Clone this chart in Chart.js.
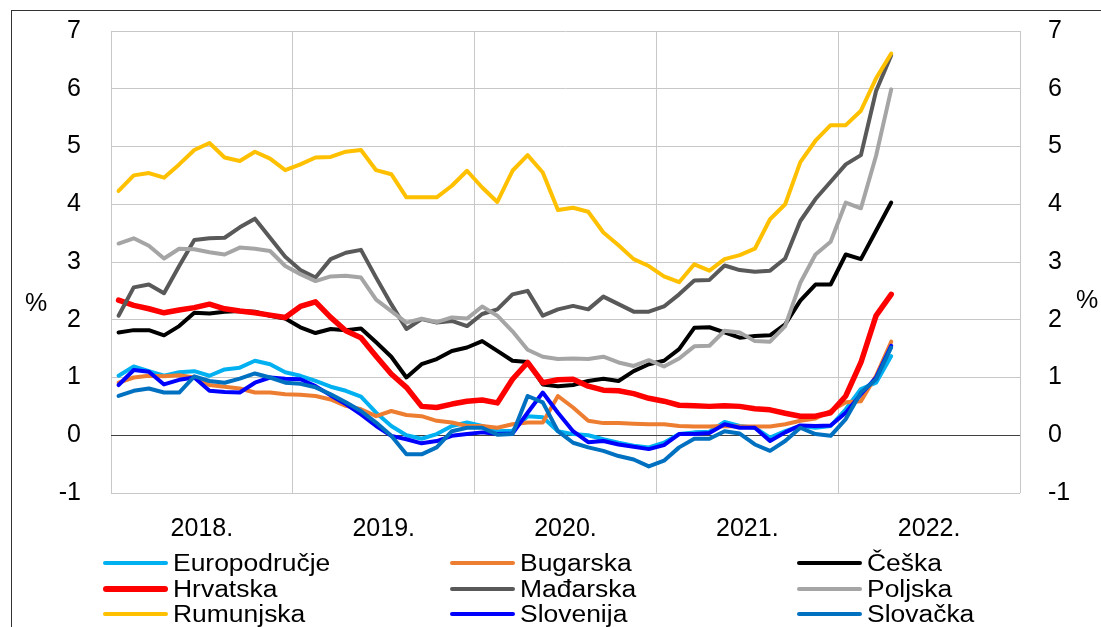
<!DOCTYPE html>
<html>
<head>
<meta charset="utf-8">
<script src="https://cdn.jsdelivr.net/npm/chart.js@4/dist/chart.umd.min.js"></script>
<style>
  html, body { margin: 0; padding: 0; background: #fff; }
  #wrap { position: relative; width: 1101px; height: 627px; overflow: hidden;
          font-family: 'Liberation Sans', Arial, sans-serif; }
  #frame { position: absolute; left: 11px; top: 10px; width: 1200px; height: 700px;
           border-left: 1px solid #333; border-top: 1px solid #333; }
  #chart { position: absolute; left: 0; top: 0; }
  .item { position: absolute; height: 26px; }
  .item b { position: absolute; left: 0; width: 65px; border-radius: 3px; }
  .item span { position: absolute; white-space: nowrap; font-size: 23px; line-height: 26px;
               color: #000; transform: scaleX(1.15); transform-origin: left center; }
</style>
</head>
<body>
<div id="wrap">
  <div id="frame"></div>
  <canvas id="chart" width="1101" height="627"></canvas>
  <div id="legend"></div>
</div>
<script>
// monthly, Jan 2018 – Apr 2022 (%)
const years = ['2018.', '2019.', '2020.', '2021.', '2022.'];
const monthsPerYear = 12;

const europodrucje = [1.03,1.19,1.11,1.03,1.09,1.11,1.03,1.14,1.17,1.29,1.23,1.09,
  1.03,0.94,0.84,0.77,0.67,0.39,0.16,0.00,-0.06,0.02,0.16,0.22,
  0.16,0.07,0.08,0.33,0.31,0.07,0.02,0.00,-0.07,-0.13,-0.18,-0.21,
  -0.13,0.02,0.05,0.06,0.23,0.16,0.13,-0.04,0.07,0.16,0.13,0.16,
  0.45,0.80,0.91,1.37];
const bugarska = [0.91,1.00,1.03,1.02,1.04,1.00,0.87,0.84,0.81,0.74,0.74,0.71,
  0.70,0.68,0.62,0.51,0.45,0.33,0.42,0.35,0.33,0.25,0.22,0.16,
  0.16,0.13,0.19,0.22,0.22,0.68,0.48,0.25,0.21,0.21,0.20,0.19,
  0.19,0.16,0.15,0.15,0.16,0.15,0.15,0.15,0.19,0.25,0.29,0.42,
  0.57,0.59,1.03,1.62];
const ceska = [1.78,1.82,1.82,1.73,1.89,2.12,2.11,2.14,2.15,2.14,2.07,2.02,
  1.87,1.77,1.84,1.82,1.85,1.61,1.36,1.00,1.23,1.32,1.46,1.52,
  1.63,1.46,1.29,1.27,0.88,0.85,0.87,0.94,0.98,0.94,1.11,1.23,
  1.29,1.49,1.86,1.87,1.78,1.69,1.72,1.73,1.92,2.33,2.61,2.61,
  3.13,3.05,3.54,4.03];
const hrvatska = [2.34,2.25,2.19,2.12,2.17,2.21,2.27,2.19,2.15,2.12,2.08,2.04,
  2.23,2.31,2.04,1.81,1.69,1.37,1.06,0.83,0.50,0.48,0.54,0.59,
  0.61,0.56,0.97,1.26,0.91,0.96,0.97,0.85,0.78,0.77,0.72,0.64,
  0.59,0.52,0.51,0.50,0.51,0.50,0.46,0.44,0.38,0.33,0.33,0.39,
  0.68,1.26,2.07,2.44];
const madjarska = [2.07,2.56,2.61,2.46,2.93,3.38,3.41,3.42,3.60,3.75,3.42,3.09,
  2.86,2.73,3.05,3.16,3.21,2.73,2.27,1.84,2.01,1.95,1.98,1.89,
  2.10,2.18,2.44,2.50,2.07,2.18,2.24,2.18,2.40,2.27,2.14,2.14,
  2.23,2.44,2.68,2.69,2.94,2.86,2.83,2.85,3.06,3.71,4.09,4.39,
  4.69,4.85,5.96,6.58];
const poljska = [3.32,3.41,3.28,3.06,3.23,3.22,3.17,3.13,3.25,3.23,3.19,2.93,
  2.79,2.67,2.75,2.76,2.73,2.35,2.15,1.95,2.02,1.96,2.04,2.02,
  2.23,2.07,1.80,1.48,1.36,1.32,1.33,1.32,1.36,1.26,1.20,1.30,
  1.19,1.33,1.54,1.55,1.81,1.78,1.63,1.62,1.89,2.64,3.13,3.35,
  4.03,3.93,4.84,5.99];
const rumunjska = [4.23,4.50,4.54,4.46,4.69,4.94,5.06,4.81,4.75,4.91,4.79,4.59,
  4.69,4.81,4.82,4.91,4.94,4.59,4.52,4.12,4.12,4.12,4.32,4.58,
  4.29,4.04,4.58,4.85,4.55,3.90,3.94,3.87,3.51,3.29,3.05,2.93,
  2.75,2.65,2.96,2.85,3.05,3.12,3.23,3.74,4.00,4.73,5.10,5.37,
  5.37,5.62,6.18,6.61];
const slovenija = [0.87,1.13,1.10,0.88,0.96,1.00,0.77,0.75,0.74,0.91,1.00,0.98,
  0.97,0.85,0.69,0.54,0.36,0.16,-0.01,-0.07,-0.14,-0.10,-0.01,0.02,
  0.05,0.02,0.03,0.39,0.74,0.39,0.07,-0.12,-0.10,-0.16,-0.20,-0.24,
  -0.17,0.02,0.02,0.04,0.19,0.13,0.13,-0.10,0.05,0.17,0.16,0.17,
  0.39,0.71,1.00,1.55];
const slovacka = [0.68,0.77,0.81,0.74,0.74,1.02,0.94,0.91,0.98,1.07,1.00,0.91,
  0.89,0.83,0.71,0.57,0.42,0.22,-0.01,-0.33,-0.33,-0.21,0.07,0.13,
  0.13,0.01,0.02,0.68,0.57,0.07,-0.13,-0.21,-0.27,-0.36,-0.42,-0.54,
  -0.44,-0.21,-0.06,-0.06,0.07,0.03,-0.16,-0.27,-0.10,0.13,0.02,-0.01,
  0.28,0.74,0.97,1.52];

const yTicks = [-1, 0, 1, 2, 3, 4, 5, 6, 7];

// label, values, colour, line width
const SERIES = [
  ['Europodručje', europodrucje, '#00b0f0', 4],
  ['Bugarska', bugarska, '#ed7d31', 4],
  ['Češka', ceska, '#000000', 4],
  ['Hrvatska', hrvatska, '#ff0000', 5.5],
  ['Mađarska', madjarska, '#595959', 4],
  ['Poljska', poljska, '#a5a5a5', 4],
  ['Rumunjska', rumunjska, '#ffc000', 4],
  ['Slovenija', slovenija, '#0000ff', 4],
  ['Slovačka', slovacka, '#0070c0', 4]
];

const FONT = { family: "'Liberation Sans', Arial, sans-serif", size: 25 };
const GRID = '#c8c8c8';
const nMonths = years.length * monthsPerYear;

/* ── legend (3 columns, Excel style) ───────────── */
const LEG_X = [103, 450, 797];
const LEG_Y = [563, 589, 614];
const legend = document.getElementById('legend');
SERIES.forEach(([label, , color, w], k) => {
  const col = k % 3, row = Math.floor(k / 3);
  const el = document.createElement('div');
  el.className = 'item';
  el.style.left = LEG_X[col] + 'px';
  el.style.top = (LEG_Y[row] - 13) + 'px';
  el.innerHTML = `<b style="background:${color};height:${w}px;top:${13 - w / 2}px"></b>` +
                 `<span style="left:70px;top:0">${label}</span>`;
  legend.appendChild(el);
});

/* ── "%" unit labels on both sides ─────────────── */
const unitLabels = {
  id: 'unitLabels',
  afterDraw(chart) {
    const ctx = chart.ctx;
    ctx.save();
    ctx.fillStyle = '#000';
    ctx.font = `${FONT.size}px ${FONT.family}`;
    ctx.textAlign = 'center';
    ctx.textBaseline = 'middle';
    ctx.fillText('%', 36, 304);
    ctx.fillText('%', 1087, 301);
    ctx.restore();
  }
};

// fixed axis width, and no extra room reserved for the end labels
const fixWidth = w => s => { s.width = w; s.paddingTop = 0; s.paddingBottom = 0; };

new Chart(document.getElementById('chart'), {
  type: 'line',
  data: {
    datasets: SERIES.map(([label, vals, color, w], k) => ({
      label,
      data: vals.map((v, i) => ({ x: i + 0.5, y: v })),
      borderColor: color,
      backgroundColor: color,
      borderWidth: w,
      pointRadius: 0,
      tension: 0,
      borderJoinStyle: 'round',
      borderCapStyle: 'round',
      order: SERIES.length - k
    }))
  },
  options: {
    responsive: false,
    animation: false,
    layout: { padding: { top: 31, left: 0, right: 0, bottom: 0 } },
    plugins: { legend: { display: false }, tooltip: { enabled: false } },
    scales: {
      x: {
        type: 'linear', min: 0, max: nMonths,
        afterBuildTicks: s => {
          const t = [];
          for (let v = 0; v <= nMonths; v += monthsPerYear / 2) t.push({ value: v });
          s.ticks = t;
        },
        afterFit: s => { s.height = 627 - 493; s.paddingLeft = 0; s.paddingRight = 0; },
        border: { display: false },
        grid: {
          color: c => (c.tick && c.tick.value % monthsPerYear === 0) ? GRID : 'rgba(0,0,0,0)',
          drawTicks: false
        },
        ticks: {
          autoSkip: false, maxRotation: 0, padding: 21, color: '#000', font: FONT,
          callback: v => (v % monthsPerYear === monthsPerYear / 2) ? years[(v - 6) / monthsPerYear] : ''
        }
      },
      y: {
        position: 'left', min: -1, max: 7,
        afterBuildTicks: s => { s.ticks = yTicks.map(v => ({ value: v })); },
        afterFit: fixWidth(111),
        border: { display: false },
        grid: { color: c => c.tick && c.tick.value === 0 ? '#404040' : GRID, drawTicks: false },
        ticks: { padding: 30, color: '#000', font: FONT }
      },
      y2: {
        position: 'right', min: -1, max: 7,
        afterBuildTicks: s => { s.ticks = yTicks.map(v => ({ value: v })); },
        afterFit: fixWidth(1101 - 1020),
        border: { display: false },
        grid: { display: false, drawTicks: false },
        ticks: { padding: 28, color: '#000', font: FONT }
      }
    }
  },
  plugins: [unitLabels]
});
</script>
</body>
</html>
